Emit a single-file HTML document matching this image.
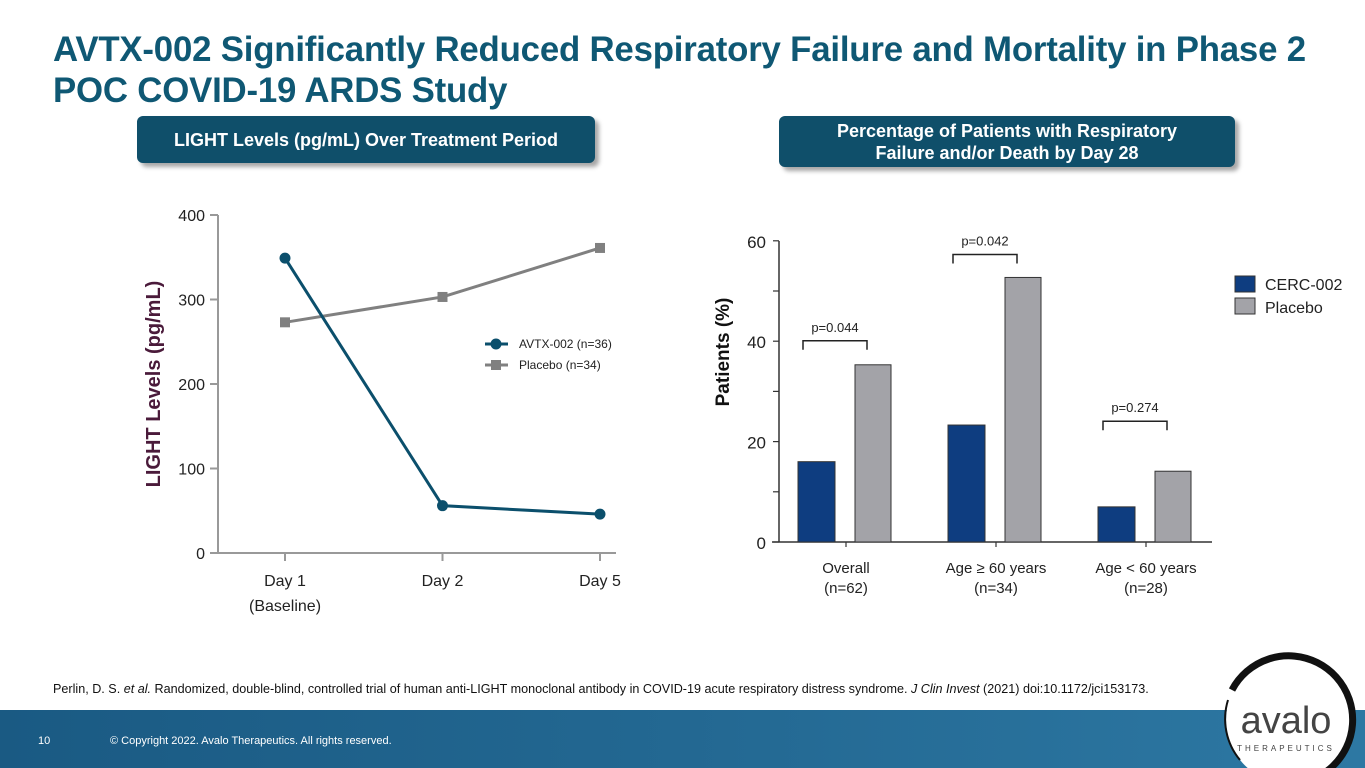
<!DOCTYPE html>
<html><head><meta charset="utf-8"><style>
body{margin:0;width:1365px;height:768px;overflow:hidden;background:#fff;font-family:"Liberation Sans",sans-serif;position:relative}
.title{position:absolute;left:53px;top:29px;font:bold 34.8px/41px "Liberation Sans",sans-serif;color:#0f5874;letter-spacing:-0.2px;white-space:nowrap}
.pill{position:absolute;background:#0f4f6a;color:#fff;font:bold 18px/22px "Liberation Sans",sans-serif;text-align:center;border-radius:6px;box-shadow:4px 4px 4px rgba(0,0,0,.35);display:flex;align-items:center;justify-content:center}
.foot{position:absolute;left:0;top:710px;width:1365px;height:58px;background:linear-gradient(90deg,#1a5a83,#236892 50%,#2d78a3)}
.cite{position:absolute;left:53px;top:682px;font-size:12.6px;color:#111;white-space:nowrap}
</style></head><body>
<div class="title">AVTX-002 Significantly Reduced Respiratory Failure and Mortality in Phase 2<br>POC COVID-19 ARDS Study</div>
<div class="pill" style="left:137px;top:116px;width:458px;height:47px">LIGHT Levels (pg/mL) Over Treatment Period</div>
<div class="pill" style="left:779px;top:116px;width:456px;height:51px">Percentage of Patients with Respiratory<br>Failure and/or Death by Day 28</div>
<svg width="1365" height="768" style="position:absolute;left:0;top:0" id="svg"></svg>
<div class="cite">Perlin, D. S. <i>et al.</i> Randomized, double-blind, controlled trial of human anti-LIGHT monoclonal antibody in COVID-19 acute respiratory distress syndrome. <i>J Clin Invest</i> (2021) doi:10.1172/jci153173.</div>
<div class="foot"></div>
<div style="position:absolute;left:38px;top:735px;font-size:11px;color:#fff">10</div>
<div style="position:absolute;left:110px;top:735px;font-size:11px;color:#fff">© Copyright 2022. Avalo Therapeutics. All rights reserved.</div>
<svg width="1365" height="768" style="position:absolute;left:0;top:0">
<circle cx="1290" cy="720" r="64" fill="#fff"/>
<path d="M1232 690 A64 64 0 1 1 1262 778" fill="none" stroke="#111" stroke-width="7"/>
<path d="M1228 700 A64 64 0 0 0 1240 760" fill="none" stroke="#111" stroke-width="2"/>
<text x="1286" y="733" text-anchor="middle" font-size="38" font-family="Liberation Sans" fill="#444">avalo</text>
<text x="1286" y="751" text-anchor="middle" font-size="8" letter-spacing="3" font-family="Liberation Sans" fill="#444">THERAPEUTICS</text>
</svg>
<script>
const lineCats=["Day 1","Day 2","Day 5"];
const avtx=[349,56,46];
const placeboL=[273,303,361];
const yTicksL=[0,100,200,300,400];
const barCats=["Overall","Age ≥ 60 years","Age < 60 years"];
const barSub=["(n=62)","(n=34)","(n=28)"];
const cerc=[16,23.3,7];
const placeboB=[35.3,52.7,14.1];
const pvals=["p=0.044","p=0.042","p=0.274"];
const yTicksR=[0,20,40,60];

const NS="http://www.w3.org/2000/svg",svg=document.getElementById('svg');
function mk(t,a,txt){const e=document.createElementNS(NS,t);for(const k in a)e.setAttribute(k,a[k]);if(txt!==undefined)e.textContent=txt;svg.appendChild(e);return e;}
const yL=v=>553-v*0.845, xL=i=>285+i*157.5;
let e;
e=mk('line',{x1:218,y1:215,x2:218,y2:553,stroke:'#999','stroke-width':2});
e=mk('line',{x1:210,y1:553,x2:616,y2:553,stroke:'#999','stroke-width':2});
yTicksL.forEach(v=>{mk('line',{x1:210,y1:yL(v),x2:218,y2:yL(v),stroke:'#999','stroke-width':2});
e=mk('text',{x:205,y:yL(v)+6,'text-anchor':'end','font-size':16,fill:'#222'},v);});
lineCats.forEach((c,i)=>{mk('line',{x1:xL(i),y1:553,x2:xL(i),y2:561,stroke:'#999','stroke-width':2});
e=mk('text',{x:xL(i),y:586,'text-anchor':'middle','font-size':16,fill:'#222'},c);});
e=mk('text',{x:xL(0),y:611,'text-anchor':'middle','font-size':16,fill:'#222'},'(Baseline)');
e=mk('text',{x:0,y:0,transform:'translate(160,384) rotate(-90)','text-anchor':'middle','font-size':20,'font-weight':'bold',fill:'#4a1a3a'},'LIGHT Levels (pg/mL)');
e=mk('polyline',{points:placeboL.map((v,i)=>xL(i)+','+yL(v)).join(' '),fill:'none',stroke:'#808080','stroke-width':3});
placeboL.forEach((v,i)=>{e=mk('rect',{x:xL(i)-5,y:yL(v)-5,width:10,height:10,fill:'#808080'});});
e=mk('polyline',{points:avtx.map((v,i)=>xL(i)+','+yL(v)).join(' '),fill:'none',stroke:'#0b4f6c','stroke-width':3});
avtx.forEach((v,i)=>{e=mk('circle',{cx:xL(i),cy:yL(v),r:5.5,fill:'#0b4f6c'});});
mk('line',{x1:485,y1:344,x2:508,y2:344,stroke:'#0b4f6c','stroke-width':3});mk('circle',{cx:496,cy:344,r:5.5,fill:'#0b4f6c'});
e=mk('text',{x:519,y:348,'font-size':12,fill:'#222'},'AVTX-002 (n=36)');
mk('line',{x1:485,y1:365,x2:508,y2:365,stroke:'#808080','stroke-width':3});mk('rect',{x:491,y:360,width:10,height:10,fill:'#808080'});
e=mk('text',{x:519,y:369,'font-size':12,fill:'#222'},'Placebo (n=34)');
const yR=v=>542-v*5.02, xC=i=>816+i*150;
e=mk('line',{x1:779,y1:241,x2:779,y2:542,stroke:'#333','stroke-width':1.5});
e=mk('line',{x1:772,y1:542,x2:1212,y2:542,stroke:'#333','stroke-width':1.5});
[0,10,20,30,40,50,60].forEach(v=>mk('line',{x1:773,y1:yR(v),x2:779,y2:yR(v),stroke:'#333','stroke-width':1.2}));
yTicksR.forEach(v=>{e=mk('text',{x:766,y:yR(v)+7,'text-anchor':'end','font-size':17,fill:'#222'},v);});
e=mk('text',{x:0,y:0,transform:'translate(729,352) rotate(-90)','text-anchor':'middle','font-size':19,'font-weight':'bold',fill:'#111'},'Patients (%)');
barCats.forEach((c,i)=>{const x=xC(i);
mk('line',{x1:x+30,y1:542,x2:x+30,y2:547,stroke:'#333','stroke-width':1.2});
e=mk('rect',{x:x-18,y:yR(cerc[i]),width:37,height:cerc[i]*5.02,fill:'#0e3d80',stroke:'#333','stroke-width':1});
e=mk('rect',{x:x+39,y:yR(placeboB[i]),width:36,height:placeboB[i]*5.02,fill:'#a3a3a8',stroke:'#333','stroke-width':1});
e=mk('text',{x:x+30,y:573,'text-anchor':'middle','font-size':15,fill:'#222'},c);
e=mk('text',{x:x+30,y:593,'text-anchor':'middle','font-size':15,fill:'#222'},barSub[i]);
const top=Math.max(cerc[i],placeboB[i]);const by=yR(top)-(i==2?50:i==1?23:24);
mk('path',{d:`M${x-13} ${by+9}V${by}H${x+51}V${by+9}`,fill:'none',stroke:'#222','stroke-width':1.5});
e=mk('text',{x:x+19,y:by-9,'text-anchor':'middle','font-size':13,fill:'#222'},pvals[i]);});
mk('rect',{x:1235,y:276,width:20,height:16,fill:'#0e3d80',stroke:'#333'});
e=mk('text',{x:1265,y:290,'font-size':16,fill:'#222'},'CERC-002');
mk('rect',{x:1235,y:298,width:20,height:16,fill:'#a3a3a8',stroke:'#333'});
e=mk('text',{x:1265,y:313,'font-size':16,fill:'#222'},'Placebo');
</script>
</body></html>
